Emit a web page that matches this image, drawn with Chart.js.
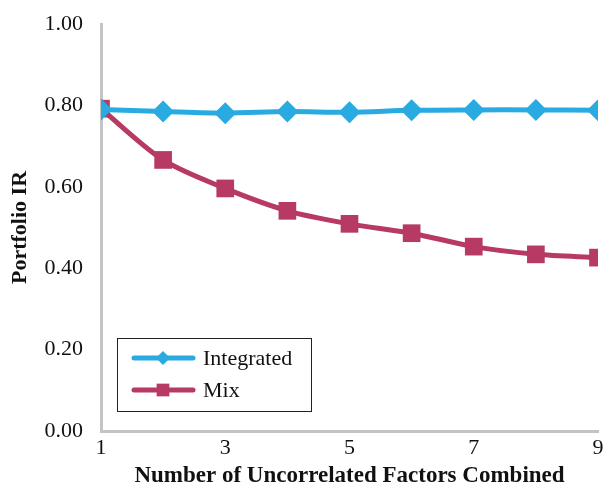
<!DOCTYPE html>
<html>
<head>
<meta charset="utf-8">
<script src="https://cdn.jsdelivr.net/npm/chart.js@4"></script>
<style>
  html, body { margin: 0; padding: 0; background: #fff; }
  #wrap { width: 613px; height: 490px; }
</style>
</head>
<body>
<div id="wrap"><canvas id="grafik" width="613" height="490"></canvas></div>
<script>
// data
const factors = [1, 2, 3, 4, 5, 6, 7, 8, 9];
const integrated = [0.79, 0.785, 0.781, 0.785, 0.783, 0.788, 0.789, 0.789, 0.788];
const mix = [0.792, 0.666, 0.596, 0.541, 0.509, 0.486, 0.453, 0.434, 0.426];
const xTicks = [1, 3, 5, 7, 9];
const yTicks = [0, 0.2, 0.4, 0.6, 0.8, 1.0];

const biru = '#29abe2';
const merah = '#b73a64';
const serif = '"Liberation Serif", "Times New Roman", serif';

// legenda kotak di dalam area grafik
const legendaKotak = {
    id: 'legendaKotak',
    afterDatasetsDraw(chart) {
        const ctx = chart.ctx;
        const x0 = 117, y0 = 338, w = 194, h = 73;
        ctx.save();
        ctx.fillStyle = '#fff';
        ctx.fillRect(x0, y0, w, h);
        ctx.strokeStyle = '#222';
        ctx.lineWidth = 1;
        ctx.strokeRect(x0 + 0.5, y0 + 0.5, w, h);
        chart.data.datasets.forEach((ds, i) => {
            const y = y0 + 20 + i * 32;
            ctx.strokeStyle = ds.borderColor;
            ctx.lineWidth = 5;
            ctx.lineCap = 'round';
            ctx.beginPath();
            ctx.moveTo(x0 + 17, y);
            ctx.lineTo(x0 + 76, y);
            ctx.stroke();
            ctx.fillStyle = ds.borderColor;
            Chart.helpers.drawPoint(ctx, {
                pointStyle: ds.pointStyle,
                radius: ds.pointStyle === 'rect' ? 9 : 7
            }, x0 + 46, y);
            ctx.fillStyle = '#111';
            ctx.font = '22px ' + serif;
            ctx.textBaseline = 'middle';
            ctx.fillText(ds.label, x0 + 86, y + 1);
        });
        ctx.restore();
    }
};

const ctx = document.getElementById('grafik').getContext('2d');
const myChart = new Chart(ctx, {
    type: 'line',
    data: {
        datasets: [{
            label: 'Integrated',
            data: factors.map((f, i) => ({ x: f, y: integrated[i] })),
            borderColor: biru,
            backgroundColor: biru,
            borderWidth: 5,
            pointStyle: 'rectRot',
            pointRadius: 11,
            pointBorderWidth: 0,
            tension: 0.3
        }, {
            label: 'Mix',
            data: factors.map((f, i) => ({ x: f, y: mix[i] })),
            borderColor: merah,
            backgroundColor: merah,
            borderWidth: 5,
            pointStyle: 'rect',
            pointRadius: 12.5,
            pointBorderWidth: 0,
            tension: 0.3
        }]
    },
    options: {
        responsive: false,
        animation: false,
        layout: { padding: { top: 24, right: 15, left: 0, bottom: 0 } },
        plugins: {
            legend: { display: false },
            tooltip: { enabled: false }
        },
        scales: {
            x: {
                type: 'linear',
                min: 1,
                max: 9,
                grid: { display: false, drawTicks: false },
                border: { display: true, color: '#c4c4c4', width: 3 },
                afterBuildTicks: s => { s.ticks = xTicks.map(v => ({ value: v })); },
                ticks: {
                    color: '#111',
                    padding: 4,
                    maxRotation: 0,
                    font: { family: serif, size: 22 }
                },
                title: {
                    display: true,
                    text: 'Number of Uncorrelated Factors Combined',
                    color: '#111',
                    padding: { top: 4, bottom: 0 },
                    font: { family: serif, size: 23, weight: 'bold' }
                },
                afterFit: s => { s.height = 59; s.paddingLeft = 0; s.paddingRight = 0; }
            },
            y: {
                min: 0,
                max: 1,
                grid: { display: false, drawTicks: false },
                border: { display: true, color: '#c4c4c4', width: 3 },
                afterBuildTicks: s => { s.ticks = yTicks.map(v => ({ value: v })); },
                ticks: {
                    color: '#111',
                    padding: 18,
                    font: { family: serif, size: 22 },
                    callback: v => v.toFixed(2)
                },
                title: {
                    display: true,
                    text: 'Portfolio IR',
                    color: '#111',
                    padding: { top: 7, bottom: 0 },
                    font: { family: serif, size: 22, weight: 'bold' }
                },
                afterFit: s => { s.width = 101; s.paddingTop = 0; s.paddingBottom = 0; }
            }
        }
    },
    plugins: [legendaKotak]
});
</script>
</body>
</html>
